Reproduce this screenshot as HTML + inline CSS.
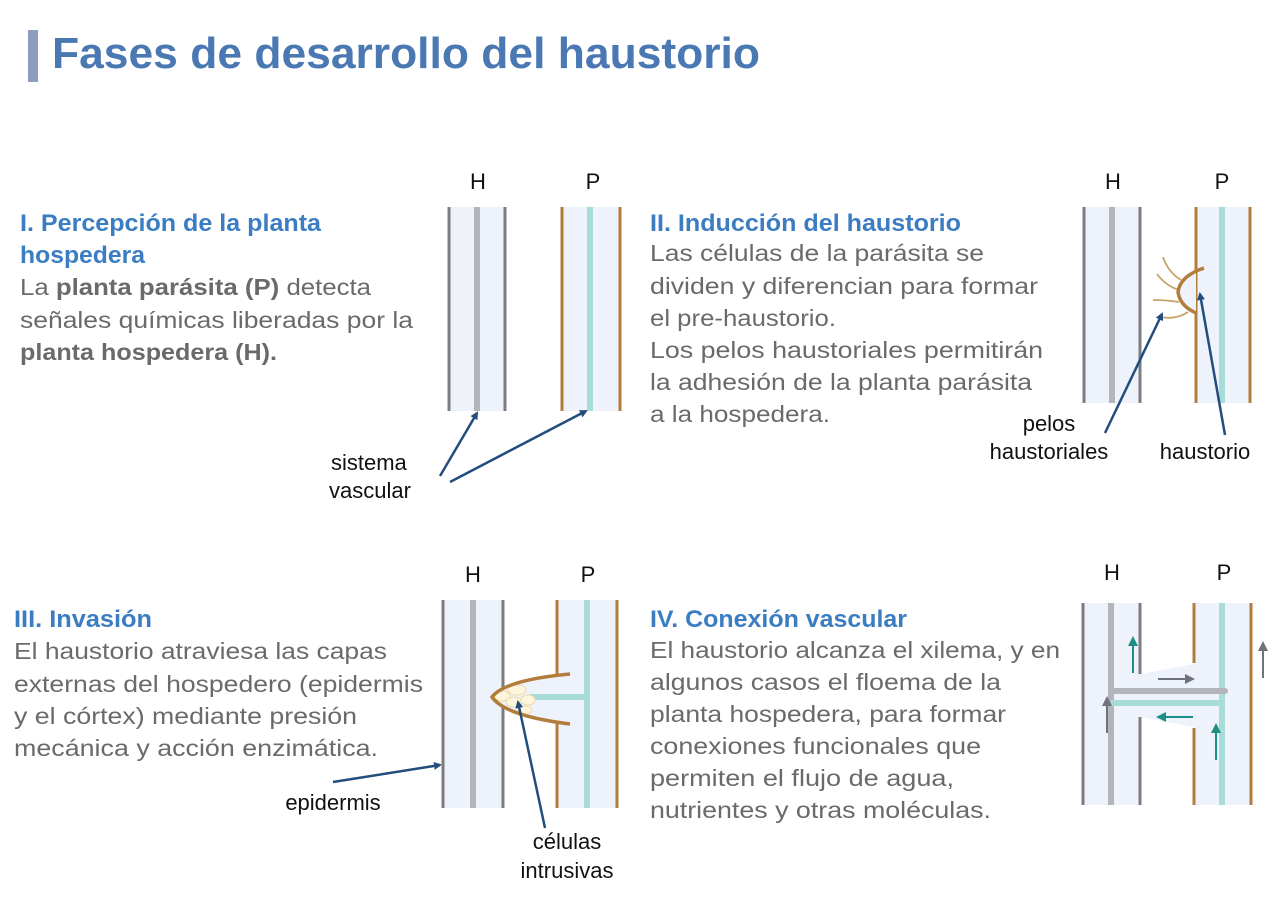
<!DOCTYPE html>
<html><head><meta charset="utf-8"><style>
body{margin:0;background:#fff}
svg{display:block}
text{font-family:"Liberation Sans",sans-serif}
.t{font-size:44px;font-weight:bold;fill:#4a78b3}
.h{font-size:24px;font-weight:bold;fill:#3b7dc2}
.b{font-size:23px;fill:#6a6a6a}
.b tspan.s{font-weight:bold}
.l{font-size:22px;fill:#111}
</style></head><body>
<svg width="1280" height="897" viewBox="0 0 1280 897" xmlns="http://www.w3.org/2000/svg">
<defs>
<marker id="ab" markerWidth="8" markerHeight="8" refX="6" refY="4" orient="auto" markerUnits="userSpaceOnUse"><path d="M0,0 L8,4 L0,8 z" fill="#234d7c"/></marker>
<marker id="ag" markerWidth="10" markerHeight="10" refX="5" refY="5" orient="auto" markerUnits="userSpaceOnUse"><path d="M0,0 L10,5 L0,10 z" fill="#6f7278"/></marker>
<marker id="at" markerWidth="10" markerHeight="10" refX="5" refY="5" orient="auto" markerUnits="userSpaceOnUse"><path d="M0,0 L10,5 L0,10 z" fill="#1e8f86"/></marker>
</defs>
<rect x="28" y="30" width="10" height="52" fill="#8e9dbd"/>
<text class="t" x="52" y="68" textLength="708" lengthAdjust="spacingAndGlyphs">Fases de desarrollo del haustorio</text>

<text class="h" x="20" y="231" textLength="301" lengthAdjust="spacingAndGlyphs">I. Percepción de la planta</text>
<text class="h" x="20" y="263" textLength="125" lengthAdjust="spacingAndGlyphs">hospedera</text>
<text class="b" x="20" y="295" textLength="351" lengthAdjust="spacingAndGlyphs">La <tspan class="s">planta parásita (P)</tspan> detecta</text>
<text class="b" x="20" y="328" textLength="393" lengthAdjust="spacingAndGlyphs">señales químicas liberadas por la</text>
<text class="b" x="20" y="360" textLength="257" lengthAdjust="spacingAndGlyphs"><tspan class="s">planta hospedera (H).</tspan></text>

<text class="h" x="650" y="231" textLength="311" lengthAdjust="spacingAndGlyphs">II. Inducción del haustorio</text>
<text class="b" x="650" y="261" textLength="334" lengthAdjust="spacingAndGlyphs">Las células de la parásita se</text>
<text class="b" x="650" y="294" textLength="388" lengthAdjust="spacingAndGlyphs">dividen y diferencian para formar</text>
<text class="b" x="650" y="326" textLength="186" lengthAdjust="spacingAndGlyphs">el pre-haustorio.</text>
<text class="b" x="650" y="358" textLength="393" lengthAdjust="spacingAndGlyphs">Los pelos haustoriales permitirán</text>
<text class="b" x="650" y="390" textLength="382" lengthAdjust="spacingAndGlyphs">la adhesión de la planta parásita</text>
<text class="b" x="650" y="422" textLength="180" lengthAdjust="spacingAndGlyphs">a la hospedera.</text>

<text class="h" x="14" y="627" textLength="138" lengthAdjust="spacingAndGlyphs">III. Invasión</text>
<text class="b" x="14" y="659" textLength="373" lengthAdjust="spacingAndGlyphs">El haustorio atraviesa las capas</text>
<text class="b" x="14" y="692" textLength="409" lengthAdjust="spacingAndGlyphs">externas del hospedero (epidermis</text>
<text class="b" x="14" y="724" textLength="343" lengthAdjust="spacingAndGlyphs">y el córtex) mediante presión</text>
<text class="b" x="14" y="756" textLength="364" lengthAdjust="spacingAndGlyphs">mecánica y acción enzimática.</text>

<text class="h" x="650" y="627" textLength="257" lengthAdjust="spacingAndGlyphs">IV. Conexión vascular</text>
<text class="b" x="650" y="658" textLength="410" lengthAdjust="spacingAndGlyphs">El haustorio alcanza el xilema, y en</text>
<text class="b" x="650" y="690" textLength="351" lengthAdjust="spacingAndGlyphs">algunos casos el floema de la</text>
<text class="b" x="650" y="722" textLength="356" lengthAdjust="spacingAndGlyphs">planta hospedera, para formar</text>
<text class="b" x="650" y="754" textLength="331" lengthAdjust="spacingAndGlyphs">conexiones funcionales que</text>
<text class="b" x="650" y="786" textLength="304" lengthAdjust="spacingAndGlyphs">permiten el flujo de agua,</text>
<text class="b" x="650" y="818" textLength="341" lengthAdjust="spacingAndGlyphs">nutrientes y otras moléculas.</text>

<!-- Diagram I -->
<text class="l" x="478" y="189" text-anchor="middle">H</text>
<text class="l" x="593" y="189" text-anchor="middle">P</text>
<rect x="449" y="207" width="56" height="204" fill="#eef3fb"/>
<rect x="562" y="207" width="58" height="204" fill="#eef3fb"/>
<line x1="449" y1="207" x2="449" y2="411" stroke="#7b7d82" stroke-width="3"/>
<line x1="477" y1="207" x2="477" y2="411" stroke="#b3b5ba" stroke-width="6"/>
<line x1="505" y1="207" x2="505" y2="411" stroke="#7b7d82" stroke-width="3"/>
<line x1="562" y1="207" x2="562" y2="411" stroke="#b27d3c" stroke-width="3"/>
<line x1="590" y1="207" x2="590" y2="411" stroke="#a8dcd8" stroke-width="6"/>
<line x1="620" y1="207" x2="620" y2="411" stroke="#b27d3c" stroke-width="3"/>
<line x1="440" y1="476" x2="477" y2="413" stroke="#234d7c" stroke-width="2.5" marker-end="url(#ab)"/>
<line x1="450" y1="482" x2="586" y2="411" stroke="#234d7c" stroke-width="2.5" marker-end="url(#ab)"/>
<text class="l" x="331" y="470">sistema</text>
<text class="l" x="329" y="498">vascular</text>

<!-- Diagram II -->
<text class="l" x="1113" y="189" text-anchor="middle">H</text>
<text class="l" x="1222" y="189" text-anchor="middle">P</text>
<rect x="1084" y="207" width="56" height="196" fill="#eef3fb"/>
<rect x="1196" y="207" width="54" height="196" fill="#eef3fb"/>
<line x1="1084" y1="207" x2="1084" y2="403" stroke="#7b7d82" stroke-width="3"/>
<line x1="1112" y1="207" x2="1112" y2="403" stroke="#b3b5ba" stroke-width="6"/>
<line x1="1140" y1="207" x2="1140" y2="403" stroke="#7b7d82" stroke-width="3"/>
<line x1="1196" y1="207" x2="1196" y2="403" stroke="#b27d3c" stroke-width="3"/>
<line x1="1222" y1="207" x2="1222" y2="403" stroke="#a8dcd8" stroke-width="6"/>
<line x1="1250" y1="207" x2="1250" y2="403" stroke="#b27d3c" stroke-width="3"/>
<path d="M1196,270 Q1178,280 1178,292 Q1180,306 1196,313 Z" fill="#eef3fb"/>
<g fill="none" stroke="#c9a267" stroke-width="1.8">
<path d="M1181,280 Q1168,272 1163,257"/>
<path d="M1179,290 Q1166,286 1157,274"/>
<path d="M1179,302 Q1166,300 1153,300"/>
<path d="M1188,312 Q1176,320 1160,317"/>
</g>
<path d="M1204,268 Q1180,276 1178,292 Q1180,306 1196,313" fill="none" stroke="#b27d3c" stroke-width="3.5"/>
<line x1="1105" y1="433" x2="1162" y2="314" stroke="#234d7c" stroke-width="2.5" marker-end="url(#ab)"/>
<line x1="1225" y1="435" x2="1200" y2="294" stroke="#234d7c" stroke-width="2.5" marker-end="url(#ab)"/>
<text class="l" x="1049" y="431" text-anchor="middle">pelos</text>
<text class="l" x="1049" y="459" text-anchor="middle">haustoriales</text>
<text class="l" x="1205" y="459" text-anchor="middle">haustorio</text>

<!-- Diagram III -->
<text class="l" x="473" y="582" text-anchor="middle">H</text>
<text class="l" x="588" y="582" text-anchor="middle">P</text>
<rect x="443" y="600" width="60" height="208" fill="#eef3fb"/>
<rect x="557" y="600" width="60" height="208" fill="#eef3fb"/>
<line x1="443" y1="600" x2="443" y2="808" stroke="#7b7d82" stroke-width="3"/>
<line x1="473" y1="600" x2="473" y2="808" stroke="#b3b5ba" stroke-width="6"/>
<line x1="503" y1="600" x2="503" y2="808" stroke="#7b7d82" stroke-width="3"/>
<line x1="557" y1="600" x2="557" y2="676" stroke="#b27d3c" stroke-width="3"/>
<line x1="557" y1="722" x2="557" y2="808" stroke="#b27d3c" stroke-width="3"/>
<line x1="587" y1="600" x2="587" y2="808" stroke="#a8dcd8" stroke-width="6"/>
<line x1="617" y1="600" x2="617" y2="808" stroke="#b27d3c" stroke-width="3"/>
<path d="M570,674 Q505,680 492,697 Q505,716 570,724 Z" fill="#eef3fb"/>
<line x1="530" y1="697" x2="587" y2="697" stroke="#a8dcd8" stroke-width="6"/>
<g fill="#fdf6dc" stroke="#ecdcaa" stroke-width="1">
<ellipse cx="502" cy="696" rx="8" ry="5"/>
<ellipse cx="517" cy="690" rx="9" ry="5"/>
<ellipse cx="514" cy="702" rx="8" ry="5"/>
<ellipse cx="528" cy="700" rx="7" ry="5"/>
<ellipse cx="525" cy="710" rx="7" ry="4"/>
</g>
<path d="M570,674 Q505,680 492,697 Q505,716 570,724" fill="none" stroke="#b27d3c" stroke-width="3.5"/>
<line x1="333" y1="782" x2="440" y2="765" stroke="#234d7c" stroke-width="2.5" marker-end="url(#ab)"/>
<line x1="545" y1="828" x2="518" y2="702" stroke="#234d7c" stroke-width="2.5" marker-end="url(#ab)"/>
<text class="l" x="333" y="810" text-anchor="middle">epidermis</text>
<text class="l" x="567" y="849" text-anchor="middle">células</text>
<text class="l" x="567" y="878" text-anchor="middle">intrusivas</text>

<!-- Diagram IV -->
<text class="l" x="1112" y="580" text-anchor="middle">H</text>
<text class="l" x="1224" y="580" text-anchor="middle">P</text>
<rect x="1083" y="603" width="57" height="202" fill="#eef3fb"/>
<rect x="1194" y="603" width="57" height="202" fill="#eef3fb"/>
<path d="M1140,674 L1194,664 L1194,727 L1140,717 Z" fill="#eef3fb"/>
<line x1="1083" y1="603" x2="1083" y2="805" stroke="#7b7d82" stroke-width="3"/>
<line x1="1111" y1="603" x2="1111" y2="805" stroke="#b3b5ba" stroke-width="6"/>
<line x1="1140" y1="603" x2="1140" y2="674" stroke="#7b7d82" stroke-width="3"/>
<line x1="1140" y1="717" x2="1140" y2="805" stroke="#7b7d82" stroke-width="3"/>
<line x1="1194" y1="603" x2="1194" y2="663" stroke="#b27d3c" stroke-width="3"/>
<line x1="1194" y1="728" x2="1194" y2="805" stroke="#b27d3c" stroke-width="3"/>
<line x1="1222" y1="603" x2="1222" y2="805" stroke="#a8dcd8" stroke-width="6"/>
<line x1="1251" y1="603" x2="1251" y2="805" stroke="#b27d3c" stroke-width="3"/>
<line x1="1111" y1="691" x2="1225" y2="691" stroke="#b3b5ba" stroke-width="6" stroke-linecap="round"/>
<line x1="1111" y1="703" x2="1222" y2="703" stroke="#a8dcd8" stroke-width="6"/>
<line x1="1133" y1="673" x2="1133" y2="641" stroke="#1e8f86" stroke-width="2" marker-end="url(#at)"/>
<line x1="1158" y1="679" x2="1190" y2="679" stroke="#6f7278" stroke-width="2" marker-end="url(#ag)"/>
<line x1="1107" y1="733" x2="1107" y2="701" stroke="#6f7278" stroke-width="2" marker-end="url(#ag)"/>
<line x1="1193" y1="717" x2="1161" y2="717" stroke="#1e8f86" stroke-width="2" marker-end="url(#at)"/>
<line x1="1216" y1="760" x2="1216" y2="728" stroke="#1e8f86" stroke-width="2" marker-end="url(#at)"/>
<line x1="1263" y1="678" x2="1263" y2="646" stroke="#6f7278" stroke-width="2" marker-end="url(#ag)"/>
</svg>
</body></html>
